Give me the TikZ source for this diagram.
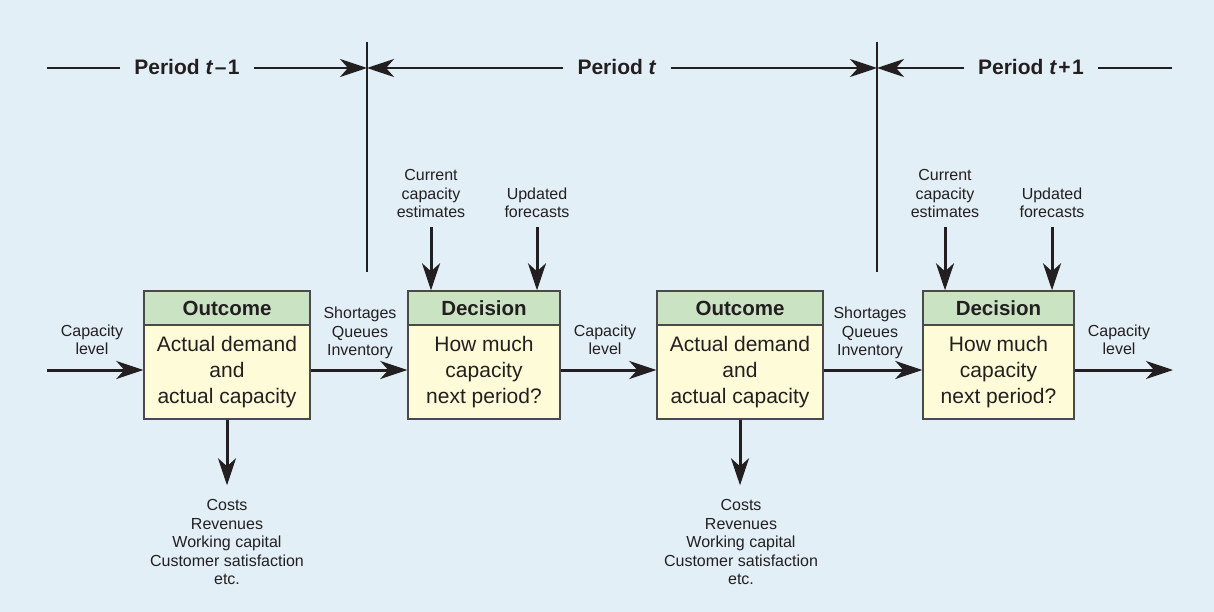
\documentclass[tikz,border=0pt]{standalone}
\usepackage{fontspec}
\setmainfont{Liberation Sans}
\usetikzlibrary{arrows.meta}
\definecolor{bgc}{HTML}{E3EFF7}
\definecolor{hdrc}{HTML}{C9E3C3}
\definecolor{bodyc}{HTML}{FEFBD8}
\definecolor{edge}{HTML}{4A4A4C}
\definecolor{ink}{HTML}{231F20}
\tikzset{
  conn/.style={line width=3pt, draw=ink, -{Stealth[length=27pt,width=18pt,inset=8pt]}},
  pline/.style={line width=2.6pt, draw=ink},
  parr/.style={pline, -{Stealth[length=27pt,width=18pt,inset=8pt]}},
  divider/.style={line width=1.5pt, draw=ink},
  hdr/.style={draw=edge, line width=1.4pt, fill=hdrc, inner sep=0pt, minimum height=34pt, font=\fontsize{20.5}{24}\selectfont\bfseries, text=ink},
  boxbody/.style={draw=edge, line width=1.4pt, fill=bodyc, inner sep=0pt, minimum height=94pt, align=center, font=\fontsize{21}{26}\selectfont, text=ink},
  lbl/.style={align=center, inner sep=0pt, font=\fontsize{16}{18.5}\selectfont, text=ink, anchor=south},
  per/.style={anchor=base, inner xsep=14pt, inner ysep=0pt, font=\fontsize{21}{25}\selectfont\bfseries, text=ink},
}
\begin{document}
\begin{tikzpicture}[x=1pt,y=-1pt]
\fill[bgc] (0,0) rectangle (1214,612);
\useasboundingbox (0,0) rectangle (1214,612);

% period header
\coordinate (L0) at (47,68);
\coordinate (R0) at (1172,68);
\coordinate (dv1t) at (367,42);
\coordinate (dv1b) at (367,272);
\coordinate (dv2t) at (877,42);
\coordinate (dv2b) at (877,272);
\draw[divider] (dv1t) -- (dv1b);
\draw[divider] (dv2t) -- (dv2b);
\node[per] (p1) at (187,75) {Period \textit{t}\kern1.5pt–\kern1.5pt1};
\node[per] (p2) at (617,75) {Period \textit{t}};
\node[per] (p3) at (1031,75) {Period \textit{t}\kern1.5pt+\kern1.5pt1};
\draw[pline] (L0) -- (L0 -| p1.west);
\draw[parr] (p1.east |- L0) -- (L0 -| dv1t);
\draw[parr] (p2.west |- L0) -- (L0 -| dv1t);
\draw[parr] (p2.east |- L0) -- (L0 -| dv2t);
\draw[parr] (p3.west |- L0) -- (L0 -| dv2t);
\draw[pline] (p3.east |- L0) -- (R0);

% boxes
\node[hdr, minimum width=166pt] (o1h) at (227,308) {Outcome};
\node[boxbody, minimum width=166pt] (o1b) at (227,372) {Actual demand\\and\\actual capacity};
\node[hdr, minimum width=152pt] (d1h) at (484,308) {Decision};
\node[boxbody, minimum width=152pt] (d1b) at (484,372) {How much\\capacity\\next period?};
\node[hdr, minimum width=166pt] (o2h) at (740,308) {Outcome};
\node[boxbody, minimum width=166pt] (o2b) at (740,372) {Actual demand\\and\\actual capacity};
\node[hdr, minimum width=151pt] (d2h) at (998.5,308) {Decision};
\node[boxbody, minimum width=151pt] (d2b) at (998.5,372) {How much\\capacity\\next period?};

% labels
\node[lbl] (cap0) at (92,355) {Capacity\\level};
\node[lbl] (sqi1) at (360,359.4) {Shortages\\Queues\\Inventory};
\node[lbl] (cap1) at (605,355) {Capacity\\level};
\node[lbl] (sqi2) at (870,359.4) {Shortages\\Queues\\Inventory};
\node[lbl] (cap2) at (1119,355) {Capacity\\level};
\node[lbl] (cur1) at (431,218) {Current\\capacity\\estimates};
\node[lbl] (upd1) at (537,218) {Updated\\forecasts};
\node[lbl] (cur2) at (945,218) {Current\\capacity\\estimates};
\node[lbl] (upd2) at (1052,218) {Updated\\forecasts};
\node[lbl] (res1) at (227,585) {Costs\\Revenues\\Working capital\\Customer satisfaction\\etc.};
\node[lbl] (res2) at (741,585) {Costs\\Revenues\\Working capital\\Customer satisfaction\\etc.};

% main flow
\coordinate (in0) at (47,370);
\coordinate (out0) at (1173,370);
\draw[conn] (in0) -- (in0 -| o1b.west);
\draw[conn] (o1b.east |- in0) -- (in0 -| d1b.west);
\draw[conn] (d1b.east |- in0) -- (in0 -| o2b.west);
\draw[conn] (o2b.east |- in0) -- (in0 -| d2b.west);
\draw[conn] (d2b.east |- in0) -- (out0);

% inputs
\draw[conn, shorten <=9pt] (cur1.south) -- (cur1.south |- d1h.north);
\draw[conn, shorten <=9pt] (upd1.south) -- (upd1.south |- d1h.north);
\draw[conn, shorten <=9pt] (cur2.south) -- (cur2.south |- d2h.north);
\draw[conn, shorten <=9pt] (upd2.south) -- (upd2.south |- d2h.north);

% outputs
\draw[conn, shorten >=14pt] (o1b.south) -- (o1b.south |- res1.north);
\draw[conn, shorten >=14pt] (o2b.south) -- (o2b.south |- res2.north);
\end{tikzpicture}
\end{document}
